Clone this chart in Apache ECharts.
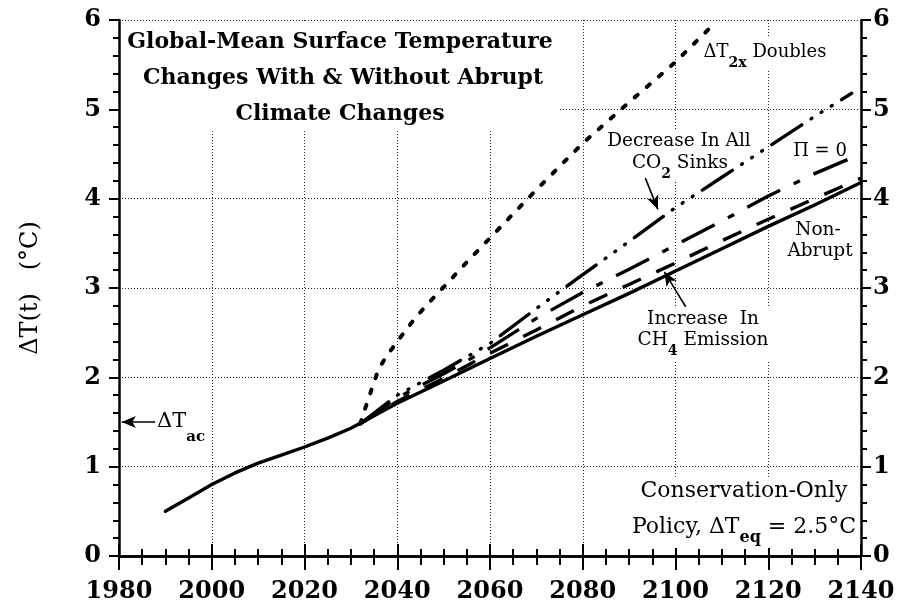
<!DOCTYPE html>
<html><head><meta charset="utf-8">
<script src="https://cdn.jsdelivr.net/npm/echarts@6/dist/echarts.min.js"></script>
<style>html,body{margin:0;padding:0;background:#fff}#c{width:902px;height:608px}</style>
</head><body><div id="c"></div>
<script>
// ---------- data ----------
const xTicks = [1980, 2000, 2020, 2040, 2060, 2080, 2100, 2120, 2140];
const yTicks = [0, 1, 2, 3, 4, 5, 6];

const nonAbruptYears  = [1990, 1995, 2000, 2005, 2010, 2015, 2020, 2025, 2030, 2035, 2040, 2050, 2060, 2070, 2080, 2090, 2100, 2110, 2120, 2130, 2140];
const nonAbruptValues = [0.50, 0.65, 0.80, 0.93, 1.04, 1.13, 1.22, 1.32, 1.43, 1.57, 1.71, 1.96, 2.21, 2.46, 2.70, 2.94, 3.19, 3.44, 3.69, 3.93, 4.18];

const ch4Years  = [2032, 2040, 2050, 2060, 2070, 2080, 2090, 2100, 2110, 2120, 2130, 2140];
const ch4Values = [1.48, 1.73, 1.99, 2.27, 2.53, 2.80, 3.04, 3.28, 3.53, 3.77, 4.00, 4.23];

const piZeroYears  = [2032, 2040, 2050, 2060, 2070, 2080, 2090, 2100, 2110, 2120, 2130, 2139];
const piZeroValues = [1.48, 1.77, 2.04, 2.33, 2.66, 2.95, 3.21, 3.48, 3.75, 4.03, 4.28, 4.48];

const co2SinkYears  = [2032, 2040, 2050, 2060, 2070, 2080, 2090, 2100, 2110, 2120, 2130, 2138];
const co2SinkValues = [1.48, 1.80, 2.08, 2.38, 2.77, 3.15, 3.52, 3.90, 4.24, 4.58, 4.92, 5.18];

const t2xYears  = [2032, 2032.5, 2033, 2034, 2035, 2036, 2037, 2038, 2040, 2042, 2044, 2046, 2050, 2055, 2060, 2070, 2080, 2090, 2100, 2108];
const t2xValues = [1.48, 1.55, 1.64, 1.79, 1.95, 2.09, 2.18, 2.26, 2.40, 2.54, 2.67, 2.79, 3.01, 3.29, 3.56, 4.10, 4.62, 5.08, 5.53, 5.94];

const deltaTac = 1.5;

// ---------- helpers ----------
const pairs = (xs, ys) => xs.map((x, i) => [x, ys[i]]);
const FAM = 'DejaVu Serif';
const FF = '"DejaVu Serif", "Liberation Serif", serif';
const mctx = document.createElement('canvas').getContext('2d');
function measure(t, size, weight) {
  mctx.font = (weight || 'normal') + ' ' + size + 'px "' + FAM + '"';
  return mctx.measureText(t).width;
}

const chart = echarts.init(document.getElementById('c'), null, {renderer: 'canvas'});

function lineSeries(name, xs, ys, dash, cap, width) {
  return {
    name, type: 'line', data: pairs(xs, ys), showSymbol: false, symbol: 'none',
    smooth: false, z: 2,
    lineStyle: {color: '#000', width: width || 3.4, type: dash, cap: cap || 'butt', join: 'round'},
    xAxisIndex: 0, yAxisIndex: 0
  };
}

function txt(text, x, y, size, weight, align) {
  return {
    type: 'text', x, y, z: 5,
    style: {text, fontFamily: FF, fontSize: size, fontWeight: weight || 'normal', fill: '#000',
      align: align || 'center', verticalAlign: 'middle'}
  };
}
// a run of text pieces [text, size, weight, dy] laid out left to right
function run(parts, x, y, align) {
  const widths = parts.map(p => measure(p[0], p[1], p[2]));
  const total = widths.reduce((a, b) => a + b, 0);
  let cx = align === 'center' ? x - total / 2 : x;
  return parts.map((p, i) => {
    const el = txt(p[0], cx, y + (p[3] || 0), p[1], p[2], 'left');
    cx += widths[i];
    return el;
  });
}
const box = (x, y, w, h) => ({type: 'rect', z: 1, shape: {x, y, width: w, height: h}, style: {fill: '#fff'}});

const axisCommon = {
  type: 'value', min: xTicks[0], max: xTicks[xTicks.length - 1], interval: xTicks[1] - xTicks[0]
};
const tickFont = {fontFamily: FF, fontSize: 24, fontWeight: 'bold', color: '#000'};

const option = {
  animation: false,
  backgroundColor: '#fff',
  grid: {left: 119, right: 41, top: 20, bottom: 52, containLabel: false},
  xAxis: [
    Object.assign({}, axisCommon, {
      position: 'bottom',
      axisLine: {show: true, lineStyle: {color: '#000', width: 2.5}},
      axisTick: {show: true, inside: false, length: 14, lineStyle: {color: '#000', width: 2}},
      minorTick: {show: true, splitNumber: 4, length: 9, lineStyle: {color: '#000', width: 2}},
      axisLabel: Object.assign({show: true, margin: 24,
        formatter: v => xTicks.includes(v) ? String(v) : ''}, tickFont),
      splitLine: {show: true, lineStyle: {color: '#222', width: 1, type: [1, 2]}}
    }),
    Object.assign({}, axisCommon, {
      position: 'top',
      axisLine: {show: true, lineStyle: {color: '#000', width: 2.5}},
      axisTick: {show: true, inside: false, length: 12, lineStyle: {color: '#000', width: 2}},
      minorTick: {show: true, splitNumber: 4, length: 7, lineStyle: {color: '#000', width: 2}},
      axisLabel: {show: false},
      splitLine: {show: false}
    })
  ],
  yAxis: [
    {
      type: 'value', position: 'left', min: yTicks[0], max: yTicks[yTicks.length - 1], interval: 1,
      name: 'ΔT(t)   (°C)', nameLocation: 'middle', nameGap: 76, nameRotate: 90,
      nameTextStyle: {fontFamily: FF, fontSize: 24, color: '#000'},
      axisLine: {show: true, lineStyle: {color: '#000', width: 2.5}},
      axisTick: {show: true, inside: false, length: 10, lineStyle: {color: '#000', width: 2}},
      minorTick: {show: true, splitNumber: 5, length: 6, lineStyle: {color: '#000', width: 2}},
      axisLabel: Object.assign({show: true, margin: 18,
        formatter: v => yTicks.includes(v) ? String(v) : ''}, tickFont),
      splitLine: {show: true, lineStyle: {color: '#222', width: 1, type: [1, 2]}}
    },
    {
      type: 'value', position: 'right', min: yTicks[0], max: yTicks[yTicks.length - 1], interval: 1,
      axisLine: {show: true, lineStyle: {color: '#000', width: 2.5}},
      axisTick: {show: true, inside: false, length: 10, lineStyle: {color: '#000', width: 2}},
      minorTick: {show: true, splitNumber: 5, length: 6, lineStyle: {color: '#000', width: 2}},
      axisLabel: Object.assign({show: true, margin: 12,
        formatter: v => yTicks.includes(v) ? String(v) : ''}, tickFont),
      splitLine: {show: false}
    }
  ],
  series: [
    Object.assign(lineSeries('Non-Abrupt', nonAbruptYears, nonAbruptValues, 'solid', 'round'), {
      markLine: {
        silent: true, animation: false, symbol: ['none', 'arrow'], symbolSize: [9, 14],
        label: {show: false},
        lineStyle: {color: '#000', width: 1.6, type: 'solid'},
        data: [
          [{coord: [1987.8, deltaTac]}, {coord: [1980.6, deltaTac]}],
          [{coord: [2093.5, 4.23]}, {coord: [2096.2, 3.88]}],
          [{coord: [2102.2, 2.79]}, {coord: [2097.6, 3.18]}]
        ]
      }
    }),
    lineSeries('Increase In CH4 Emission', ch4Years, ch4Values, [20, 17]),
    lineSeries('Π = 0', piZeroYears, piZeroValues, [37, 15, 7, 15]),
    lineSeries('Decrease In All CO2 Sinks', co2SinkYears, co2SinkValues, [36, 11, 1, 11, 1, 11, 1, 11], 'round'),
    lineSeries('ΔT2x Doubles', t2xYears, t2xValues, [4, 12], 'round', 4)
  ],
  graphic: [].concat(
    [
      box(122, 22, 438, 108),
      box(700, 38, 132, 32),
      box(600, 130, 158, 52),
      box(797, 143, 46, 16),
      box(786, 218, 68, 44),
      box(632, 308, 142, 52),
      box(634, 478, 220, 70)
    ],
    // title
    [
      txt('Global-Mean Surface Temperature', 340, 42, 22, 'bold'),
      txt('Changes With & Without Abrupt', 343, 78, 22, 'bold'),
      txt('Climate Changes', 340, 114, 22, 'bold')
    ],
    run([['ΔT', 18], ['2x', 14, 'bold', 11], [' Doubles', 18]], 765, 52, 'center'),
    [txt('Decrease In All', 679, 141, 18.5)],
    run([['CO', 18.5], ['2', 14, 'bold', 11], [' Sinks', 18.5]], 680, 163, 'center'),
    [txt('Π = 0', 820, 151, 18)],
    [txt('Non-', 818, 230, 18.5), txt('Abrupt', 820, 251, 18.5)],
    [txt('Increase  In', 703, 319, 18.5)],
    run([['CH', 18.5], ['4', 14, 'bold', 11], [' Emission', 18.5]], 703, 340, 'center'),
    [txt('Conservation-Only', 744, 491, 22)],
    run([['Policy, ΔT', 22], ['eq', 16, 'bold', 11], [' = 2.5°C', 22]], 744, 527, 'center'),
    run([['ΔT', 21], ['ac', 15, 'bold', 15]], 157, 422, 'left')
  )
};
chart.setOption(option);
</script></body></html>
